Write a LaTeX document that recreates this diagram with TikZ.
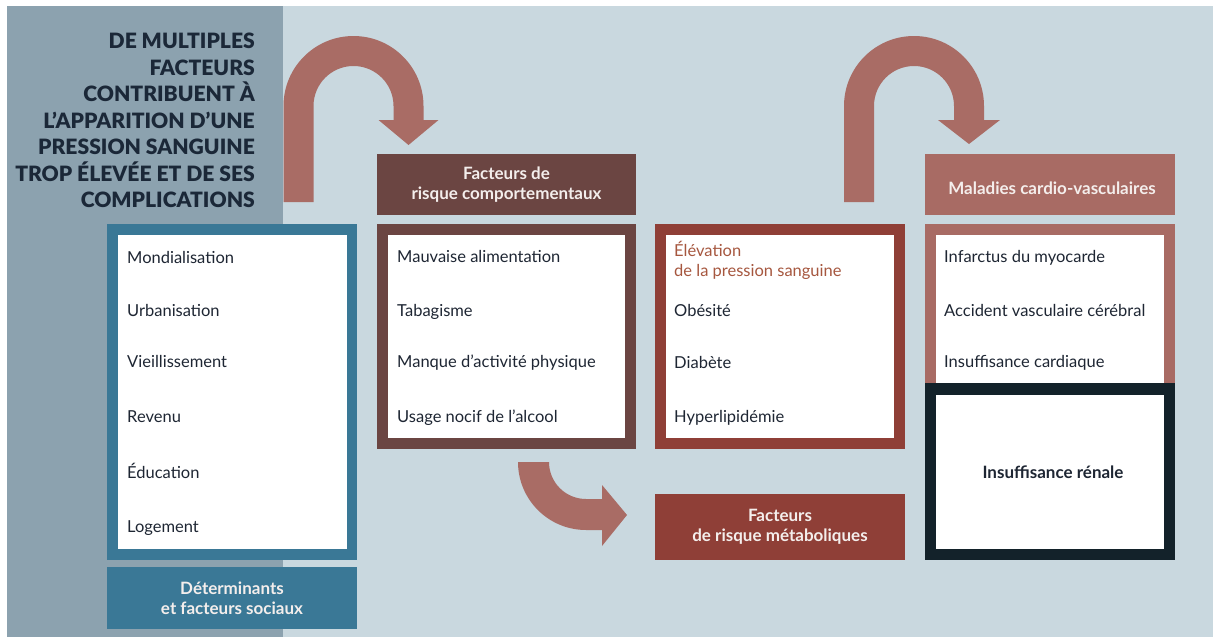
\documentclass[tikz,border=0pt]{standalone}
\usepackage{fontspec}
\setmainfont{Lato}
\newfontfamily\titlefont{Lato Black}
\definecolor{bgc}{HTML}{C9D8DF}
\definecolor{panelc}{HTML}{8CA2AF}
\definecolor{bluec}{HTML}{3A7896}
\definecolor{brownc}{HTML}{6B4542}
\definecolor{redc}{HTML}{8F3F37}
\definecolor{pinkc}{HTML}{A86B64}
\definecolor{arrowc}{HTML}{A96C65}
\definecolor{darkc}{HTML}{13222A}
\definecolor{txtc}{HTML}{1E2633}
\definecolor{titlec}{HTML}{1B2838}
\definecolor{elevc}{HTML}{A6573F}
\definecolor{headc}{HTML}{F4EEEC}
\begin{document}
\begin{tikzpicture}[x=1pt,y=-1pt,
  blk/.style={anchor=north west, inner sep=0pt, outer sep=0pt},
  item/.style={anchor=base west, inner sep=0pt, font=\fontsize{16.5}{19}\selectfont, text=txtc},
  head/.style={blk, align=center, font=\bfseries\fontsize{17}{20}\selectfont, text=headc},
  bigarrow/.style={fill=arrowc}
]
\useasboundingbox (0,0) rectangle (1213,637);
\fill[white] (0,0) rectangle (1213,637);
\fill[bgc] (7,6) rectangle (1213,637);
\fill[panelc] (7,6) rectangle (283,637);

% title
\node[anchor=north east, inner sep=0pt, align=right, text=titlec,
      font=\titlefont\fontsize{21.1}{26.5}\selectfont] (title) at (255,33)
  {DE MULTIPLES\\FACTEURS\\CONTRIBUENT À\\L’APPARITION D’UNE\\PRESSION SANGUINE\\TROP ÉLEVÉE ET DE SES\\COMPLICATIONS};

% arrows
\fill[bigarrow] (283.5,202) -- (283.5,106) arc (180:360:70) -- (423.5,120) -- (438.5,120)
  -- (408.5,145) -- (378.5,120) -- (393.5,120) -- (393.5,106) arc (360:180:40) -- (313.5,202) -- cycle;
\fill[bigarrow] (844,202) -- (844,106) arc (180:360:70) -- (984,120) -- (1000,120)
  -- (969,144) -- (938,120) -- (954,120) -- (954,106) arc (360:180:40) -- (874,202) -- cycle;
\fill[bigarrow] (518,462) arc (180:90:68) -- (602,530) -- (602,546) -- (627,515)
  -- (602,485) -- (602,499) -- (586,499) arc (90:180:37) -- cycle;

% social determinants
\node[blk, fill=bluec, minimum width=250pt, minimum height=336pt] (sdframe) at (107,224) {};
\node[blk, fill=white, minimum width=229pt, minimum height=314pt] (sdlist) at (118,235) {};
\node[item] (sd1) at (127,263) {Mondialisation};
\node[item] (sd2) at (127,316) {Urbanisation};
\node[item] (sd3) at (127,367) {Vieillissement};
\node[item] (sd4) at (127,422) {Revenu};
\node[item] (sd5) at (127,478) {Éducation};
\node[item] (sd6) at (127,532) {Logement};
\node[head, fill=bluec, minimum width=250pt, minimum height=62pt] (sdhead) at (107,567)
  {Déterminants\\et facteurs sociaux};

% behavioural
\node[head, fill=brownc, minimum width=259pt, minimum height=61pt] (bhead) at (377,154)
  {Facteurs de\\risque comportementaux};
\node[blk, fill=brownc, minimum width=259pt, minimum height=225pt] (bframe) at (377,224) {};
\node[blk, fill=white, minimum width=237pt, minimum height=203pt] (blist) at (388,235) {};
\node[item] (b1) at (397,262) {Mauvaise alimentation};
\node[item] (b2) at (397,316) {Tabagisme};
\node[item] (b3) at (397,367) {Manque d’activité physique};
\node[item] (b4) at (397,422) {Usage nocif de l’alcool};

% metabolic
\node[blk, fill=redc, minimum width=250pt, minimum height=225pt] (mframe) at (655,224) {};
\node[blk, fill=white, minimum width=228pt, minimum height=203pt] (mlist) at (666,235) {};
\node[item, anchor=north west, align=left, text=elevc, font=\fontsize{16.5}{20}\selectfont] (m0) at (674,241)
  {Élévation\\de la pression sanguine};
\node[item] (m1) at (674,316) {Obésité};
\node[item] (m2) at (674,368) {Diabète};
\node[item] (m3) at (674,422) {Hyperlipidémie};
\node[head, fill=redc, minimum width=250pt, minimum height=66pt] (mhead) at (655,494)
  {Facteurs\\de risque métaboliques};

% cardiovascular
\node[blk, fill=pinkc, minimum width=250pt, minimum height=61pt] (chead) at (925,154) {};
\node[anchor=base, inner sep=0pt, text=headc, font=\bfseries\fontsize{17}{20}\selectfont] (cheadtxt) at (1052,194)
  {Maladies cardio-vasculaires};
\node[blk, fill=pinkc, minimum width=250pt, minimum height=159pt] (cframe) at (925,224) {};
\node[blk, fill=white, minimum width=228pt, minimum height=148pt] (clist) at (936,235) {};
\node[item] (c1) at (944,262) {Infarctus du myocarde};
\node[item] (c2) at (944,316) {Accident vasculaire cérébral};
\node[item] (c3) at (944,367) {Insuffisance cardiaque};
\node[blk, fill=darkc, minimum width=250pt, minimum height=177pt] (kframe) at (925,383) {};
\node[blk, fill=white, minimum width=228pt, minimum height=154pt] (kbox) at (936,395) {};
\node[anchor=base, inner sep=0pt, text=txtc, font=\bfseries\fontsize{17}{19}\selectfont] (k1) at (1053,478)
  {Insuffisance rénale};
\end{tikzpicture}
\end{document}
